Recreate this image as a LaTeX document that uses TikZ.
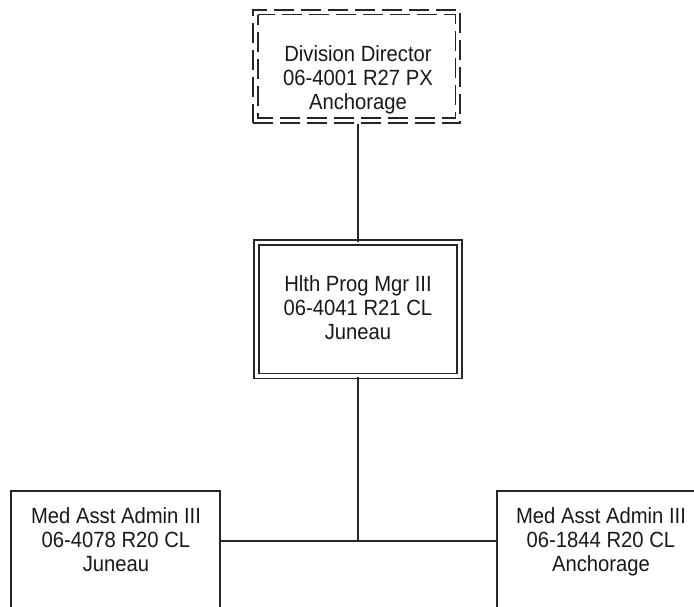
\documentclass[tikz,border=0pt]{standalone}
\usepackage{fontspec}
\newfontfamily\boxfont[FakeStretch=0.92]{Liberation Sans}
\begin{document}
\begin{tikzpicture}[x=1pt,y=-1pt,
  boxtext/.style={align=center, inner sep=0pt, text=black!90,
    font=\boxfont\fontsize{22}{24}\selectfont},
  plainbox/.style={draw=black!85, line width=1.5pt, rectangle, inner sep=0pt},
  dashbox/.style={draw=black!85, line width=1.3pt, rectangle, inner sep=0pt,
    dash pattern=on 20pt off 7pt},
  dblbox/.style={draw=black!85, line width=1.3pt, double, double distance=3.6pt,
    rectangle, inner sep=0pt},
  link/.style={draw=black!85, line width=1.6pt}]
\useasboundingbox (0,0) rectangle (694,607);
\clip (0,0) rectangle (694,607);
\fill[white] (0,0) rectangle (694,607);
% boxes
\node[dashbox, minimum width=207pt, minimum height=113pt] (dir) at (356.5,66.5) {};
\draw[draw=black!85, line width=1.3pt, dash pattern=on 20pt off 7pt, dash phase=10pt]
  ([shift={(5.5pt,-5.5pt)}]dir.north west) rectangle ([shift={(-5.5pt,5.5pt)}]dir.south east);
\node[dblbox, minimum width=203pt, minimum height=133.5pt] (mgr) at (358,309.25) {};
\node[plainbox, minimum width=209pt, minimum height=150pt] (med1) at (115.5,566) {};
\node[plainbox, minimum width=209pt, minimum height=150pt] (med2) at (601.5,566) {};
% texts
\node[boxtext] (dirt) at (358,80) {Division Director\\06-4001 R27 PX\\Anchorage};
\node[boxtext] (mgrt) at (358,308) {Hlth Prog Mgr III\\06-4041 R21 CL\\Juneau};
\node[boxtext] (med1t) at (116,539.5) {Med Asst Admin III\\06-4078 R20 CL\\Juneau};
\node[boxtext] (med2t) at (601,542) {Med Asst Admin III\\06-1844 R20 CL\\Anchorage};
% connectors
\coordinate (j) at (358,541);
\draw[link] (mgr.north) -- (mgr.north |- dir.south);
\draw[link] (mgr.south) -- (j);
\draw[link] (med1.east |- j) -- (med2.west |- j);
\end{tikzpicture}
\end{document}
